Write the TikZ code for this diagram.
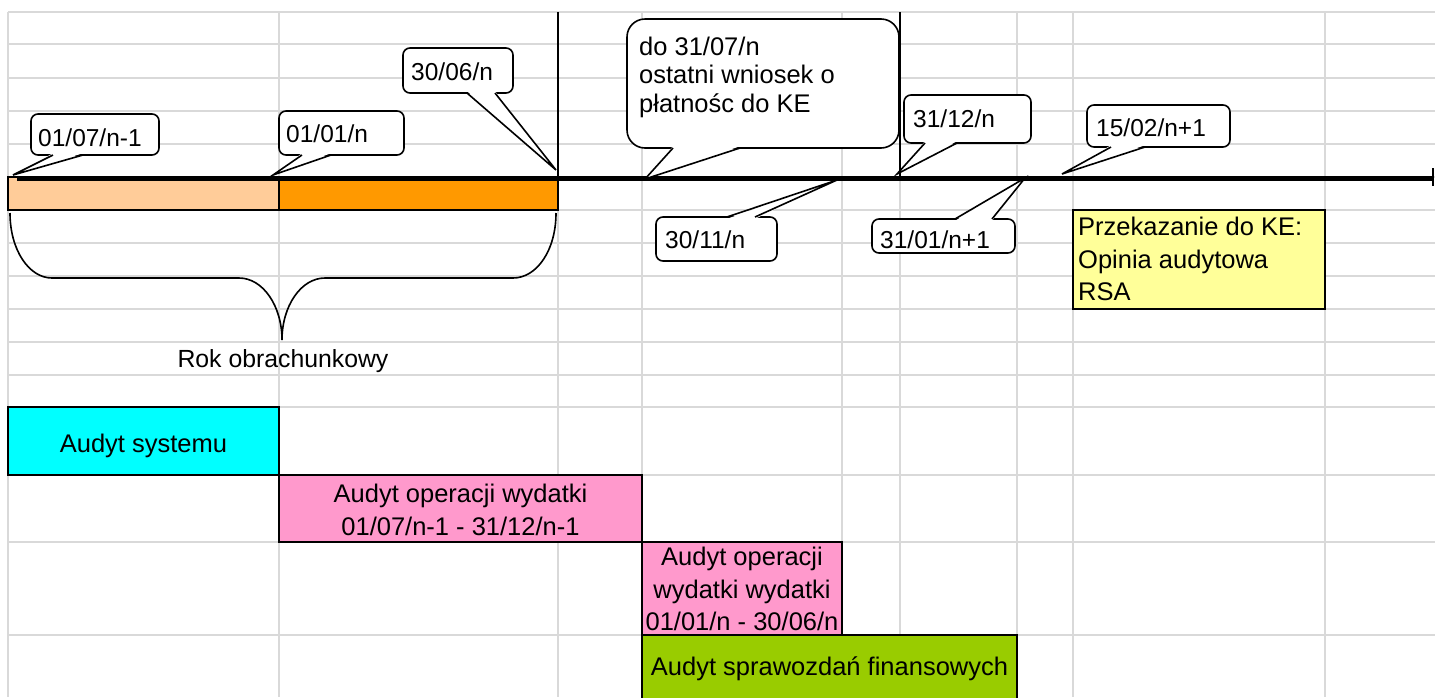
\documentclass[tikz,border=0pt]{standalone}
\usepackage{fontspec}
\setmainfont{Liberation Sans}
\usetikzlibrary{calc}
\definecolor{gridc}{RGB}{217,217,217}
\definecolor{lorange}{RGB}{255,204,153}
\definecolor{dorange}{RGB}{255,153,0}
\definecolor{cyanc}{RGB}{0,255,255}
\definecolor{pinkc}{RGB}{255,153,204}
\definecolor{greenc}{RGB}{153,204,0}
\definecolor{yellowc}{RGB}{255,255,153}
\newcommand\wedgebot[4]{%
  \fill[white] ($(#1.south west)+(#2,-1.8)$) -- (#4) -- ($(#1.south west)+(#3,-1.8)$) -- cycle;
  \draw[wedgeline] ($(#1.south west)+(#2,0)$) -- (#4) -- ($(#1.south west)+(#3,0)$);}
\newcommand\wedgetop[4]{%
  \fill[white] ($(#1.north west)+(#2,1.8)$) -- (#4) -- ($(#1.north west)+(#3,1.8)$) -- cycle;
  \draw[wedgeline] ($(#1.north west)+(#2,0)$) -- (#4) -- ($(#1.north west)+(#3,0)$);}
\begin{document}
\begin{tikzpicture}[x=1pt,y=-1pt,
  gridline/.style={draw=gridc,line width=1.8pt},
  cbox/.style={draw=black,fill=white,line width=1.6pt,rounded corners=7pt,anchor=north west,inner sep=0pt,outer sep=0pt},
  wedgeline/.style={draw=black,line width=1.6pt,line join=miter},
  txt/.style={font=\fontsize{24.5}{29}\selectfont,inner sep=0pt,anchor=base west},
  btxt/.style={font=\fontsize{25.5}{30}\selectfont,inner sep=0pt,anchor=base west},
  ctxt/.style={font=\fontsize{25.5}{30}\selectfont,inner sep=0pt,anchor=base},
  abox/.style={draw=black,line width=2pt,anchor=north west,inner sep=0pt,outer sep=0pt},
]
\useasboundingbox (0,0) rectangle (1435,697);
\clip (0,0) rectangle (1435,697);
% grid
\foreach \yy in {12,44,78,111,144,177,210,243,276,309,342,375,407,475,542,635}
  \draw[gridline] (8,\yy) -- (1435,\yy);
\foreach \xx in {8,279,558,642,842,900,1017,1073,1325}
  \draw[gridline] (\xx,12) -- (\xx,697);
% accounting year bars
\node[abox,fill=lorange,minimum width=271pt,minimum height=33pt] (bar1) at (8,177) {};
\node[abox,fill=dorange,minimum width=279pt,minimum height=33pt] (bar2) at (279,177) {};
% brace
\draw[line width=1.6pt] (10,213) .. controls (10,250) and (29,278) .. (52,278) -- (239,278)
  .. controls (263,278) and (282,306) .. (282,340)
  .. controls (282,306) and (301,278) .. (325,278) -- (513,278)
  .. controls (537,278) and (556,250) .. (556,213);
\node[ctxt,font=\fontsize{24.8}{30}\selectfont] (rok) at (283,367) {Rok obrachunkowy};
% timeline
\coordinate (tl0) at (17,178);
\coordinate (tl1) at (1433,178);
\draw[line width=5pt] (tl0) -- (tl1);
\draw[line width=2.5pt] (1433,168) -- (1433,186);
% callouts
\coordinate (p1) at (13,175);
\node[cbox,minimum width=128pt,minimum height=41pt] (b1) at (31,114) {};
\wedgebot{b1}{22}{52}{p1}
\node[txt] (t1) at (38,146) {01/07/n-1};

\coordinate (p2) at (273,175);
\node[cbox,minimum width=125pt,minimum height=44pt] (b2) at (279,111) {};
\wedgebot{b2}{23}{52}{p2}
\node[txt] (t2) at (286,142) {01/01/n};

\coordinate (p3) at (556,170);
\node[cbox,minimum width=110pt,minimum height=45pt] (b3) at (403,48) {};
\wedgebot{b3}{64}{92}{p3}
\node[txt] (t3) at (411,80) {30/06/n};

\coordinate (p4) at (645,179);
\node[cbox,rounded corners=18pt,minimum width=272pt,minimum height=129pt] (b4) at (627,19) {};
\wedgebot{b4}{46}{113}{p4}
\node[btxt] (t4a) at (639,55) {do 31/07/n};
\node[btxt] (t4b) at (639,83) {ostatni wniosek o};
\node[btxt] (t4c) at (639,112) {płatnośc do KE};

\coordinate (p5) at (897,174);
\node[cbox,minimum width=127pt,minimum height=48pt] (b5) at (904,95) {};
\wedgebot{b5}{21}{53}{p5}
\node[txt] (t5) at (913,127) {31/12/n};

\coordinate (p6) at (1062,174);
\node[cbox,minimum width=143pt,minimum height=42pt] (b6) at (1087,105) {};
\wedgebot{b6}{24}{58}{p6}
\node[txt] (t6) at (1096,136) {15/02/n+1};

\coordinate (p7) at (837,180);
\node[cbox,minimum width=121pt,minimum height=44pt] (b7) at (656,217) {};
\wedgetop{b7}{71}{99}{p7}
\node[txt] (t7) at (665,248) {30/11/n};

\coordinate (p8) at (1025,178);
\node[cbox,minimum width=143pt,minimum height=34pt] (b8) at (872,219) {};
\wedgetop{b8}{83}{120}{p8}
\node[txt] (t8) at (880,248) {31/01/n+1};
% black vertical markers
\draw[line width=2.5pt] (558,12) -- (558,210);
\draw[line width=2pt] (900,12) -- (900,177);
% yellow box
\node[abox,fill=yellowc,minimum width=252pt,minimum height=99pt] (ke) at (1073,210) {};
\node[btxt] (ke1) at (1078,235) {Przekazanie do KE:};
\node[btxt] (ke2) at (1078,268) {Opinia audytowa};
\node[btxt] (ke3) at (1078,300) {RSA};
% audit boxes
\node[abox,fill=cyanc,minimum width=271pt,minimum height=68pt] (sys) at (8,407) {};
\node[ctxt] (sys1) at (143.5,452) {Audyt systemu};
\node[abox,fill=pinkc,minimum width=363pt,minimum height=67pt] (op1) at (279,475) {};
\node[ctxt] (op1a) at (460.5,502) {Audyt operacji wydatki};
\node[ctxt] (op1b) at (460.5,535) {01/07/n-1 - 31/12/n-1};
\node[abox,fill=pinkc,minimum width=200pt,minimum height=93pt] (op2) at (642,542) {};
\node[ctxt] (op2a) at (742,565) {Audyt operacji};
\node[ctxt] (op2b) at (742,598) {wydatki wydatki};
\node[ctxt] (op2c) at (742,630) {01/01/n - 30/06/n};
\node[abox,fill=greenc,minimum width=375pt,minimum height=75pt] (fin) at (642,635) {};
\node[ctxt] (fin1) at (829.5,675) {Audyt sprawozdań finansowych};
\end{tikzpicture}
\end{document}
